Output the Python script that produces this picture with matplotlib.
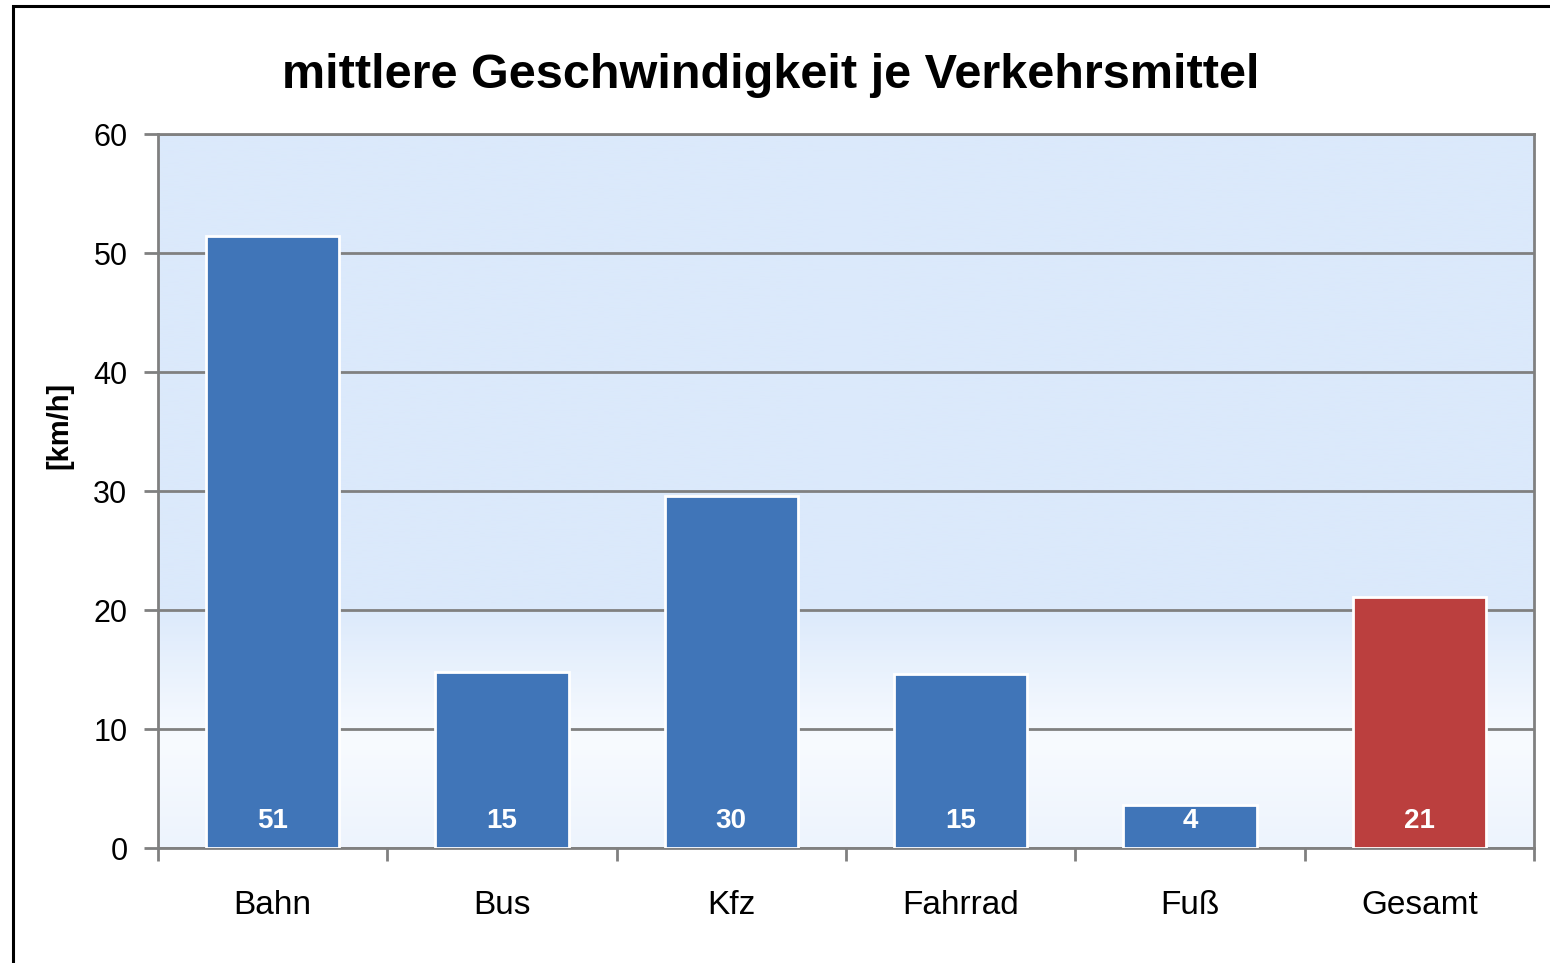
import numpy as np
import matplotlib.pyplot as plt
from matplotlib.colors import LinearSegmentedColormap
from matplotlib.patches import Rectangle

categories = ['Bahn', 'Bus', 'Kfz', 'Fahrrad', 'Fuß', 'Gesamt']
speeds = [51.4, 14.8, 29.6, 14.6, 3.6, 21.1]
bar_colors = ['#4075b8'] * 5 + ['#bb3f3e']

plt.rcParams['font.family'] = ['Liberation Sans', 'DejaVu Sans']

fig = plt.figure(figsize=(15.5, 9.63), dpi=100)
# outer frame of the chart object
fig.patches.append(Rectangle((13 / 1550, -0.05), 1.2, 1 - 6 / 963 + 0.05,
                             transform=fig.transFigure, fill=False,
                             edgecolor='black', linewidth=2.2))

ax = fig.add_axes([158 / 1550, 1 - 848 / 963, 1376 / 1550, 714 / 963])
x = np.arange(len(categories))

# background gradient: flat light blue above 20, fading to white, slight blue at base
cmap = LinearSegmentedColormap.from_list(
    'bg', [(0.0, '#edf4fd'), (0.15, '#f8fbff'), (0.34, '#dbe9fb'), (1.0, '#dbe9fb')])
ax.imshow(np.linspace(0, 1, 300)[:, None], aspect='auto', cmap=cmap, origin='lower',
          extent=[-0.5, len(categories) - 0.5, 0, 60], zorder=0)

ax.bar(x, speeds, width=0.58, color=bar_colors, edgecolor='white',
       linewidth=2, zorder=3)
for xi, v in zip(x, speeds):
    ax.text(xi, 2.3, f'{v:.0f}', ha='center', va='center', color='white',
            fontsize=20, fontweight='bold', zorder=4)

ax.set_xlim(-0.5, len(categories) - 0.5)
ax.set_ylim(0, 60)
ax.set_yticks(range(0, 61, 10))
ax.yaxis.grid(True, color='#808080', linewidth=2, zorder=1)
ax.set_axisbelow(True)

ax.set_xticks(x)
ax.set_xticklabels(categories, fontsize=24)
ax.set_xticks(np.arange(-0.5, len(categories), 1), minor=True)
ax.tick_params(axis='x', which='major', length=0, pad=30)
ax.tick_params(axis='x', which='minor', length=9, width=2, color='#808080')
ax.tick_params(axis='y', length=10, width=2, color='#808080', labelsize=22, pad=12)

for s in ax.spines.values():
    s.set_color('#808080')
    s.set_linewidth(2)

ax.set_ylabel('[km/h]', fontsize=21, fontweight='bold')
ax.yaxis.set_label_coords(-0.0615, 0.592)
fig.text(0.497, 1 - 75 / 963, 'mittlere Geschwindigkeit je Verkehrsmittel',
         ha='center', va='center', fontsize=35, fontweight='bold')

fig.savefig('out.png', dpi=100)
